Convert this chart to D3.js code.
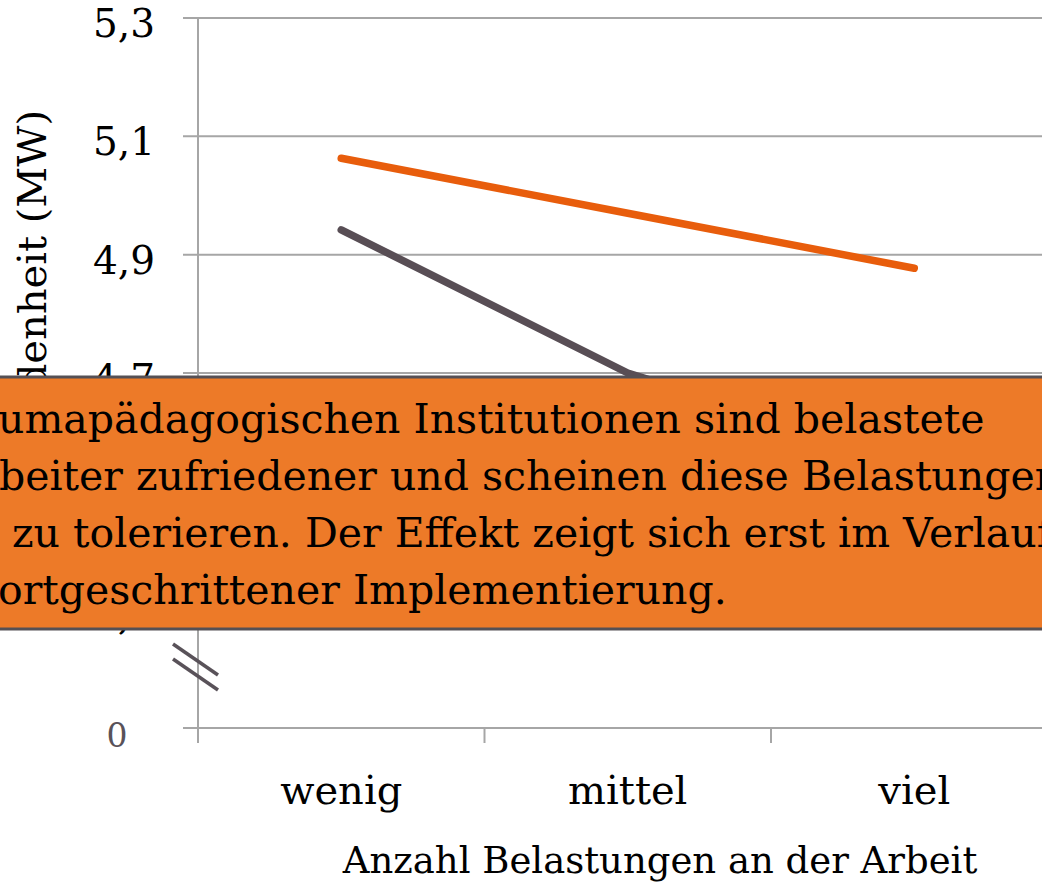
<!DOCTYPE html>
<html>
<head>
<meta charset="utf-8">
<script src="https://cdn.jsdelivr.net/npm/d3@7"></script>
<style>
  html, body { margin: 0; padding: 0; background: #fff; }
  svg { display: block; }
  text { font-family: "DejaVu Serif", "Liberation Serif", serif; }
</style>
</head>
<body>
<svg id="chart" width="1042" height="888"></svg>
<script>
// ---- data ----
const categories = ["wenig", "mittel", "viel"];
const seriesOrange = [5.063, 4.970, 4.877];
const seriesGrey = [4.942, 4.700, 4.550];
const yTicks = [4.3, 4.5, 4.7, 4.9, 5.1, 5.3];
const yTickLabels = ["4,3", "4,5", "4,7", "4,9", "5,1", "5,3"];
const yBaseValue = 4.1;
const yBaseLabel = "0";
const yTitle = "Zufriedenheit (MW)";
const xTitle = "Anzahl Belastungen an der Arbeit";
const noteLines = [
  "umapädagogischen Institutionen sind belastete",
  "beiter zufriedener und scheinen diese Belastungen",
  "zu tolerieren. Der Effekt zeigt sich erst im Verlauf",
  "ortgeschrittener Implementierung."
];

// ---- layout ----
const svg = d3.select("#chart");
const plotLeft = 198, plotRight = 1057.5, plotTop = 18, plotBottom = 728;

const x = d3.scaleBand().domain(categories).range([plotLeft, plotRight]);
const y = d3.scaleLinear().domain([yBaseValue, 5.3]).range([plotBottom, plotTop]);

const gridColor = "#a6a6a6";

// gridlines
svg.append("g").selectAll("line").data(yTicks).join("line")
  .attr("x1", 183).attr("x2", 1042)
  .attr("y1", d => y(d)).attr("y2", d => y(d))
  .attr("stroke", gridColor).attr("stroke-width", 2);

// y axis line
svg.append("line")
  .attr("x1", plotLeft).attr("x2", plotLeft)
  .attr("y1", y(5.3)).attr("y2", plotBottom + 15)
  .attr("stroke", gridColor).attr("stroke-width", 2);

// x axis (baseline)
const xAxisG = svg.append("g").attr("transform", `translate(0,${plotBottom})`);
xAxisG.append("line")
  .attr("x1", 183).attr("x2", 1042).attr("y1", 0).attr("y2", 0)
  .attr("stroke", gridColor).attr("stroke-width", 2);
const bandEdges = categories.map(c => x(c)).concat([x.range()[1]]);
xAxisG.selectAll("line.tick").data(bandEdges).join("line")
  .attr("class", "tick")
  .attr("x1", d => d).attr("x2", d => d).attr("y1", 0).attr("y2", 15)
  .attr("stroke", gridColor).attr("stroke-width", 2);

// x category labels
svg.append("g").selectAll("text").data(categories).join("text")
  .attr("x", d => x(d) + x.bandwidth() / 2)
  .attr("y", 804)
  .attr("text-anchor", "middle")
  .attr("font-size", 40)
  .attr("fill", "#000")
  .text(d => d);

// x title
svg.append("text")
  .attr("x", 660).attr("y", 873)
  .attr("text-anchor", "middle")
  .attr("font-size", 37)
  .attr("fill", "#000")
  .text(xTitle);

// y tick labels
svg.append("g").selectAll("text").data(yTicks).join("text")
  .attr("x", 155)
  .attr("y", d => y(d) + 19)
  .attr("text-anchor", "end")
  .attr("font-size", 39)
  .attr("fill", "#000")
  .text((d, i) => yTickLabels[i]);

// base "0" label
svg.append("text")
  .attr("x", 117).attr("y", y(yBaseValue) + 19)
  .attr("text-anchor", "middle")
  .attr("font-size", 33)
  .attr("fill", "#595259")
  .text(yBaseLabel);

// y title (rotated)
svg.append("text")
  .attr("transform", "translate(46,110) rotate(-90)")
  .attr("text-anchor", "end")
  .attr("font-size", 40)
  .attr("fill", "#000")
  .text(yTitle);

// axis break marks
const breakG = svg.append("g").attr("stroke", "#595259").attr("stroke-width", 3.5);
[0, 15].forEach(off => {
  breakG.append("line")
    .attr("x1", 173).attr("y1", 644 + off)
    .attr("x2", 218).attr("y2", 675 + off);
});

// series lines
const line = d3.line()
  .x((d, i) => x(categories[i]) + x.bandwidth() / 2)
  .y(d => y(d));

svg.append("path").datum(seriesGrey)
  .attr("d", line).attr("fill", "none")
  .attr("stroke", "#584e55").attr("stroke-width", 7.5)
  .attr("stroke-linecap", "round").attr("stroke-linejoin", "round");

svg.append("path").datum(seriesOrange)
  .attr("d", line).attr("fill", "none")
  .attr("stroke", "#e85d0c").attr("stroke-width", 7.5)
  .attr("stroke-linecap", "round").attr("stroke-linejoin", "round");

// annotation box
const boxG = svg.append("g");
boxG.append("rect")
  .attr("x", -10).attr("y", 377)
  .attr("width", 1070).attr("height", 252)
  .attr("fill", "#ed7a28")
  .attr("stroke", "#555055").attr("stroke-width", 3);

const lineX = [-2, -1, 12, -2];
const lineY = [433, 490, 547, 604];
boxG.selectAll("text").data(noteLines).join("text")
  .attr("x", (d, i) => lineX[i])
  .attr("y", (d, i) => lineY[i])
  .attr("font-size", 41)
  .attr("fill", "#000")
  .text(d => d);
</script>
</body>
</html>
